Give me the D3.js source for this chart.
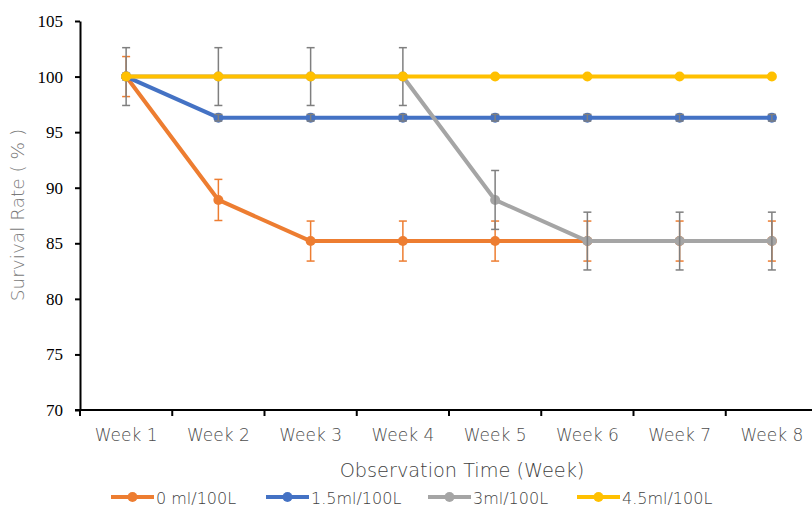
<!DOCTYPE html>
<html><head><meta charset="utf-8">
<script src="https://cdn.jsdelivr.net/npm/d3@7"></script>
<style>body{margin:0;background:#fff}svg{display:block}</style>
</head><body><svg id="c" width="812" height="507"></svg>
<script>
const weeks = ["Week 1","Week 2","Week 3","Week 4","Week 5","Week 6","Week 7","Week 8"];
const seriesNames = ["0 ml/100L","1.5ml/100L","3ml/100L","4.5ml/100L"];
const seriesColors = ["#ED7D31","#4472C4","#A5A5A5","#FFC000"];
const errColors = ["#ED7D31","#7F7F7F","#7F7F7F","#7F7F7F"];
const vals0 = [100,88.9,85.2,85.2,85.2,85.2,85.2,85.2];
const vals1 = [100,96.3,96.3,96.3,96.3,96.3,96.3,96.3];
const vals2 = [100,100,100,100,88.9,85.2,85.2,85.2];
const vals3 = [100,100,100,100,100,100,100,100];
const err0 = [1.8,1.85,1.8,1.8,1.8,1.8,1.8,1.8];
const err1 = [0.3,0.3,0.3,0.3,0.3,0.3,0.3,0.3];
const err2 = [2.6,2.6,2.6,2.6,2.65,2.6,2.6,2.6];
const err3 = [0,0,0,0,0,0,0,0];
const yTicks = [70,75,80,85,90,95,100,105];

const values = [vals0,vals1,vals2,vals3];
const errs = [err0,err1,err2,err3];
const svg = d3.select("#c");
const L=80, R=818, T=21, B=410;
const x = d3.scaleBand().domain(weeks).range([L,R]).padding(0);
const y = d3.scaleLinear().domain([70,105]).range([B,T]);
const cx = d => x(d)+x.bandwidth()/2;
const sansFont = "'DejaVu Sans',sans-serif";

// axes
const ya = svg.append("g").attr("transform",`translate(${L},0)`)
  .call(d3.axisLeft(y).tickValues(yTicks).tickSize(5).tickSizeOuter(0));
ya.select(".domain").attr("stroke","#000").attr("stroke-width",2);
ya.selectAll(".tick line").attr("stroke","#000").attr("stroke-width",2);
ya.selectAll(".tick text").attr("font-family","'Liberation Serif',serif").attr("font-size",17).attr("fill","#000").attr("x",-17);

const xa = svg.append("g").attr("transform",`translate(0,${B})`)
  .call(d3.axisBottom(x).tickSize(0).tickSizeOuter(0));
xa.select(".domain").attr("stroke","#000").attr("stroke-width",2).attr("d",`M${L-5},0H${R}`);
xa.selectAll(".tick text").attr("font-family",sansFont).attr("font-weight",200).attr("font-size",17).attr("fill","#4d4d4d").attr("dy",0).attr("y",31);
const bounds = weeks.map(w=>x(w)).concat([R]);
xa.selectAll("line.bt").data(bounds).enter().append("line").attr("class","bt")
  .attr("x1",d=>d).attr("x2",d=>d).attr("y1",0).attr("y2",6).attr("stroke","#000").attr("stroke-width",2);

// titles
svg.append("text").attr("transform",`translate(24,215) rotate(-90)`).attr("text-anchor","middle")
  .attr("font-family",sansFont).attr("font-weight",200).attr("font-size",18.5).attr("fill","#7a7a7a").text("Survival Rate ( % )");
svg.append("text").attr("x",462).attr("y",477).attr("text-anchor","middle")
  .attr("font-family",sansFont).attr("font-weight",200).attr("font-size",19.3).attr("fill","#3f3f3f").text("Observation Time (Week)");

// series
const line = d3.line().x((d,i)=>cx(weeks[i])).y(d=>y(d));
values.forEach((vs,s)=>{
  const g = svg.append("g");
  g.append("path").datum(vs).attr("d",line).attr("fill","none").attr("stroke",seriesColors[s]).attr("stroke-width",4).attr("stroke-linejoin","round");
  g.selectAll("circle").data(vs).enter().append("circle").attr("cx",(d,i)=>cx(weeks[i])).attr("cy",d=>y(d)).attr("r",5).attr("fill",seriesColors[s]);
  const eg = g.append("g");
  vs.forEach((v,i)=>{
    const e = errs[s][i]; if(!e) return;
    const X = cx(weeks[i]);
    eg.append("line").attr("x1",X).attr("x2",X).attr("y1",y(v+e)).attr("y2",y(v-e)).attr("stroke",errColors[s]).attr("stroke-width",1.5);
    [v+e,v-e].forEach(q=>eg.append("line").attr("x1",X-4).attr("x2",X+4).attr("y1",y(q)).attr("y2",y(q)).attr("stroke",errColors[s]).attr("stroke-width",1.5));
  });
});

// legend
const legX = [111,266,428,577];
seriesNames.forEach((n,s)=>{
  const g = svg.append("g").attr("transform",`translate(${legX[s]},497)`);
  g.append("line").attr("x1",0).attr("x2",43).attr("stroke",seriesColors[s]).attr("stroke-width",4);
  g.append("circle").attr("cx",21.5).attr("r",5).attr("fill",seriesColors[s]);
  g.append("text").attr("x",45).attr("y",7).attr("font-family",sansFont).attr("font-weight",200).attr("font-size",16).attr("fill","#3f3f3f").text(n);
});
</script></body></html>
